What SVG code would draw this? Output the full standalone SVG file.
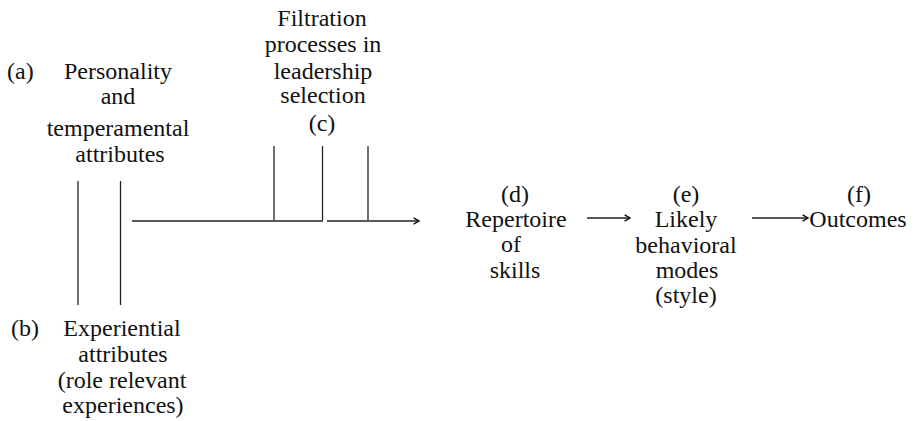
<svg xmlns="http://www.w3.org/2000/svg" width="916" height="421" viewBox="0 0 916 421">
<defs>
<style>
.t text{font-size:24px;fill:#111;text-anchor:middle}
.t text.l{text-anchor:start}
.ln{stroke:#222;stroke-width:1.3;fill:none}
</style>
<marker id="ah" viewBox="0 0 10 10" refX="9" refY="5" markerWidth="9" markerHeight="9" markerUnits="userSpaceOnUse" orient="auto">
<path d="M3,1.5 L9,5 L3,8.5" fill="none" stroke="#111" stroke-width="1.6"/>
</marker>
</defs>
<g class="t" font-family="Liberation Serif, DejaVu Serif, serif">
<g id="node-a">
<text class="l" x="7" y="79">(a)</text>
<text x="118" y="79">Personality</text>
<text x="118" y="104">and</text>
<text x="118" y="136">temperamental</text>
<text x="120" y="162">attributes</text>
</g>
<g id="node-b">
<text class="l" x="11" y="336">(b)</text>
<text x="122" y="336">Experiential</text>
<text x="123" y="362">attributes</text>
<text x="122" y="388">(role relevant</text>
<text x="123" y="413">experiences)</text>
</g>
<g id="node-c">
<text x="322" y="26">Filtration</text>
<text x="323" y="52">processes in</text>
<text x="323" y="79">leadership</text>
<text x="323" y="103">selection</text>
<text x="322" y="131">(c)</text>
</g>
<g id="node-d">
<text x="515" y="202">(d)</text>
<text x="516" y="227">Repertoire</text>
<text x="511" y="252">of</text>
<text x="515" y="278">skills</text>
</g>
<g id="node-e">
<text x="686" y="202">(e)</text>
<text x="686" y="227">Likely</text>
<text x="686" y="253">behavioral</text>
<text x="687" y="278">modes</text>
<text x="686" y="303">(style)</text>
</g>
<g id="node-f">
<text x="859" y="202">(f)</text>
<text x="858" y="227">Outcomes</text>
</g>
</g>
<g id="connectors">
<line class="ln" x1="78" y1="181" x2="78" y2="305"/>
<line class="ln" x1="120.5" y1="181" x2="120.5" y2="305"/>
<line class="ln" x1="132" y1="221" x2="323" y2="221"/>
<line class="ln" x1="327" y1="221" x2="419" y2="221" marker-end="url(#ah)"/>
<line class="ln" x1="274" y1="146" x2="274" y2="220"/>
<line class="ln" x1="322.5" y1="146" x2="322.5" y2="220"/>
<line class="ln" x1="368" y1="146" x2="368" y2="220"/>
<line class="ln" x1="587" y1="218" x2="630" y2="218" marker-end="url(#ah)"/>
<line class="ln" x1="752" y1="218" x2="808" y2="218" marker-end="url(#ah)"/>
</g>
</svg>
